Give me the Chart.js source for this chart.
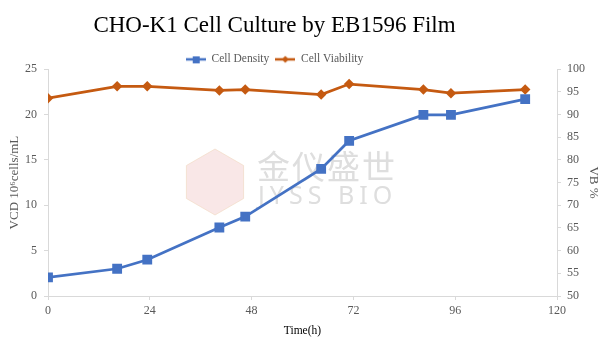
<!DOCTYPE html>
<html>
<head>
<meta charset="utf-8">
<script src="https://cdn.jsdelivr.net/npm/chart.js@4.4.1/dist/chart.umd.min.js"></script>
<style>
  html, body { margin: 0; padding: 0; background: #fff; }
  #wrap { width: 605px; height: 340px; }
</style>
</head>
<body>
<div id="wrap"><canvas id="myChart" width="605" height="340"></canvas></div>
<script>
// chart data
const hours = [0, 16.3, 23.4, 40.4, 46.5, 64.4, 71, 88.5, 95, 112.5];
const cellDensity = [2.05, 3.0, 4.0, 7.55, 8.75, 14.0, 17.1, 19.95, 19.95, 21.7];
const cellViability = [93.6, 96.2, 96.2, 95.3, 95.5, 94.4, 96.7, 95.5, 94.7, 95.5];
const xTicks = [0, 24, 48, 72, 96, 120];

const BLUE = '#4472C4';
const ORANGE = '#C55A11';
const GREY = '#595959';
const SERIF = '"Liberation Serif", "DejaVu Serif", serif';

// small canvas used as legend symbol: a line with the marker in the middle
function legendSymbol(color, shape) {
  let c = document.createElement('canvas');
  c.width = 20; c.height = 10;
  let g = c.getContext('2d');
  g.strokeStyle = color;
  g.lineWidth = 2.5;
  g.beginPath(); g.moveTo(0, 5); g.lineTo(20, 5); g.stroke();
  g.fillStyle = color;
  g.beginPath();
  if (shape === 'rect') {
    g.rect(7, 2, 7, 7);
  } else {
    g.moveTo(10, 1.5); g.lineTo(13.5, 5); g.lineTo(10, 8.5); g.lineTo(6.5, 5); g.closePath();
  }
  g.fill();
  return c;
}

// title and legend sit a bit left of centre and lower in the original
const nudgeHeader = {
  id: 'nudgeHeader',
  afterLayout(chart) {
    if (chart.titleBlock) {
      chart.titleBlock.right -= 56;
      chart.titleBlock.top += 4;
    }
    if (chart.legend) {
      chart.legend.right -= 56;
      chart.legend.top += 6;
    }
  }
};

// faint company watermark behind the lines
const watermark = {
  id: 'watermark',
  beforeDatasetsDraw(chart) {
    const ctx = chart.ctx;
    ctx.save();
    // hexagon
    const cx = 215, cy = 182, r = 33;
    ctx.beginPath();
    for (let i = 0; i < 6; i++) {
      let a = Math.PI / 3 * i - Math.PI / 2;
      let px = cx + r * Math.cos(a), py = cy + r * Math.sin(a);
      if (i === 0) ctx.moveTo(px, py); else ctx.lineTo(px, py);
    }
    ctx.closePath();
    ctx.fillStyle = 'rgba(232, 170, 170, 0.28)';
    ctx.fill();
    ctx.strokeStyle = 'rgba(240, 215, 190, 0.6)';
    ctx.lineWidth = 1;
    ctx.stroke();
    // text
    ctx.fillStyle = '#dedede';
    ctx.textBaseline = 'middle';
    ctx.font = '33px "Noto Sans CJK SC"';
    ctx.letterSpacing = '2px';
    ctx.fillText('金仪盛世', 257, 166);
    ctx.font = '25px "Noto Sans", sans-serif';
    ctx.letterSpacing = '5px';
    ctx.fillText('JYSS BIO', 258, 197);
    ctx.restore();
  }
};

const ctx = document.getElementById('myChart').getContext('2d');
const myChart = new Chart(ctx, {
  type: 'line',
  data: {
    datasets: [
      {
        label: 'Cell Density',
        data: hours.map((h, i) => ({ x: h, y: cellDensity[i] })),
        yAxisID: 'y',
        borderColor: BLUE,
        backgroundColor: BLUE,
        borderWidth: 2.75,
        pointStyle: 'rect',
        pointRadius: 5,
        pointHoverRadius: 5,
        tension: 0
      },
      {
        label: 'Cell Viability',
        data: hours.map((h, i) => ({ x: h, y: cellViability[i] })),
        yAxisID: 'y1',
        borderColor: ORANGE,
        backgroundColor: ORANGE,
        borderWidth: 2.75,
        pointStyle: 'rectRot',
        pointRadius: 3.3,
        pointHoverRadius: 3.3,
        tension: 0
      }
    ]
  },
  options: {
    responsive: false,
    animation: false,
    layout: { padding: 0 },
    plugins: {
      title: {
        display: true,
        text: 'CHO-K1 Cell Culture by EB1596 Film',
        color: '#000',
        font: { family: SERIF, size: 23, weight: 'normal' },
        padding: { top: 8, bottom: 6 }
      },
      legend: {
        position: 'top',
        labels: {
          usePointStyle: true,
          pointStyleWidth: 20,
          color: GREY,
          font: { family: SERIF, size: 11.5 },
          padding: 6,
          generateLabels(chart) {
            return [
              { text: 'Cell Density', pointStyle: legendSymbol(BLUE, 'rect'), fontColor: GREY, datasetIndex: 0, lineWidth: 0, strokeStyle: BLUE, fillStyle: BLUE },
              { text: 'Cell Viability', pointStyle: legendSymbol(ORANGE, 'diamond'), fontColor: GREY, datasetIndex: 1, lineWidth: 0, strokeStyle: ORANGE, fillStyle: ORANGE }
            ];
          }
        }
      },
      tooltip: { enabled: false }
    },
    scales: {
      x: {
        type: 'linear',
        min: 0,
        max: 120,
        afterBuildTicks: (scale) => { scale.ticks = xTicks.map(v => ({ value: v })); },
        afterFit: (scale) => { scale.height = 44; },
        border: { color: '#d9d9d9', width: 1 },
        grid: { drawOnChartArea: false, tickLength: 4, color: '#d9d9d9' },
        ticks: { color: GREY, font: { family: SERIF, size: 12 }, padding: 4, maxRotation: 0 },
        title: {
          display: true,
          text: 'Time(h)',
          color: '#000',
          font: { family: SERIF, size: 11.5 },
          padding: { top: 0, bottom: 2 }
        }
      },
      y: {
        position: 'left',
        min: 0,
        max: 25,
        afterFit: (scale) => { scale.width = 48; },
        border: { color: '#d9d9d9', width: 1 },
        grid: { drawOnChartArea: false, tickLength: 4, color: '#d9d9d9' },
        ticks: { stepSize: 5, color: GREY, font: { family: SERIF, size: 12 }, padding: 7 },
        title: {
          display: true,
          text: 'VCD 10⁶cells/mL',
          color: GREY,
          font: { family: SERIF, size: 13 },
          padding: { top: 7, bottom: 0 }
        }
      },
      y1: {
        position: 'right',
        min: 50,
        max: 100,
        afterFit: (scale) => { scale.width = 48; },
        border: { color: '#d9d9d9', width: 1 },
        grid: { drawOnChartArea: false, tickLength: 4, color: '#d9d9d9' },
        ticks: { stepSize: 5, color: GREY, font: { family: SERIF, size: 12 }, padding: 6 },
        title: {
          display: true,
          text: 'VB %',
          color: GREY,
          font: { family: SERIF, size: 13 },
          padding: { top: 4, bottom: 0 }
        }
      }
    }
  },
  plugins: [nudgeHeader, watermark]
});
</script>
</body>
</html>
